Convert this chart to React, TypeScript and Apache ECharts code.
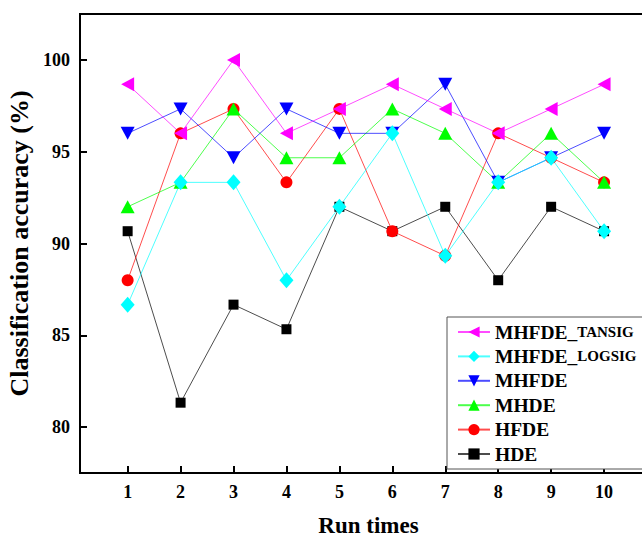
import React, { useEffect, useRef } from "react";
import * as echarts from "echarts";

const runs = [1, 2, 3, 4, 5, 6, 7, 8, 9, 10];
const yTicks = [80, 85, 90, 95, 100];

const tansig = [98.67, 96, 100, 96, 97.33, 98.67, 97.33, 96, 97.33, 98.67];
const logsig = [86.67, 93.33, 93.33, 88, 92, 96, 89.33, 93.33, 94.67, 90.67];
const mhfde = [96, 97.33, 94.67, 97.33, 96, 96, 98.67, 93.33, 94.67, 96];
const mhde = [92, 93.33, 97.33, 94.67, 94.67, 97.33, 96, 93.33, 96, 93.33];
const hfde = [88, 96, 97.33, 93.33, 97.33, 90.67, 89.33, 96, 94.67, 93.33];
const hde = [90.67, 81.33, 86.67, 85.33, 92, 90.67, 92, 88, 92, 90.67];

const FONT = "'Liberation Serif', 'Times New Roman', serif";

export default function App() {
  const ref = useRef<HTMLDivElement>(null);
  useEffect(() => {
    if (!ref.current) return;
    const chart = echarts.init(ref.current, undefined, { renderer: "svg" });
    const mk = (name: string, data: number[], color: string, symbol: string, size: any, rotate = 0) => ({
      name,
      type: "line",
      data: runs.map((r, i) => [r, data[i]]),
      symbol,
      symbolSize: size,
      symbolRotate: rotate,
      showAllSymbol: true,
      lineStyle: { color, width: 1, opacity: 0.7 },
      itemStyle: { color, borderWidth: 0 },
      emphasis: { disabled: true },
    });
    chart.setOption({
      animation: false,
      grid: {
        left: 80,
        top: 14,
        width: 577,
        bottom: 65,
        outerBoundsMode: "none",
        containLabel: false,
        show: true,
        borderColor: "#000",
        borderWidth: 2,
        backgroundColor: "transparent",
      },
      xAxis: {
        type: "value",
        min: 0.1,
        max: 11,
        name: "Run times",
        nameLocation: "middle",
        nameGap: 41,
        nameTextStyle: { fontFamily: FONT, fontWeight: "bold", fontSize: 23, color: "#000" },
        axisLine: { lineStyle: { color: "#000", width: 2 } },
        axisTick: { inside: true, length: 7, customValues: runs, lineStyle: { color: "#000", width: 2 } },
        axisLabel: {
          customValues: runs,
          margin: 10,
          fontFamily: FONT,
          fontWeight: "bold",
          fontSize: 18,
          color: "#000",
        },
        splitLine: { show: false },
      },
      yAxis: {
        type: "value",
        min: 77.5,
        max: 102.5,
        name: "Classification accuracy (%)",
        nameLocation: "middle",
        nameGap: 44,
        nameTextStyle: { fontFamily: FONT, fontWeight: "bold", fontSize: 26, color: "#000" },
        axisLine: { show: true, lineStyle: { color: "#000", width: 2 } },
        axisTick: { show: true, inside: true, length: 7, customValues: yTicks, lineStyle: { color: "#000", width: 2 } },
        axisLabel: {
          customValues: yTicks,
          margin: 10,
          fontFamily: FONT,
          fontWeight: "bold",
          fontSize: 18,
          color: "#000",
        },
        splitLine: { show: false },
      },
      legend: {
        left: 447,
        top: 317,
        orient: "vertical",
        data: ["MHFDE_TANSIG", "MHFDE_LOGSIG", "MHFDE", "MHDE", "HFDE", "HDE"],
        itemWidth: 32,
        itemHeight: 14,
        itemGap: 4.4,
        padding: [5, 40, 5, 10],
        borderColor: "#555",
        borderWidth: 1,
        backgroundColor: "#fff",
        formatter: (n: string) => {
          const m = n.match(/^(MHFDE_)(TANSIG|LOGSIG)$/);
          if (m) return `{a|${m[1]}}{b|${m[2]}}`;
          return `{a|${n}}`;
        },
        textStyle: {
          fontFamily: FONT,
          fontWeight: "bold",
          fontSize: 19.5,
          color: "#000",
          lineHeight: 20,
          padding: [0, 0, 0, 0],
          rich: {
            a: { fontFamily: FONT, fontWeight: "bold", fontSize: 19.5, color: "#000", lineHeight: 20 },
            b: { fontFamily: FONT, fontWeight: "bold", fontSize: 15, color: "#000", lineHeight: 20 },
          },
        },
      },
      series: [
        mk("HDE", hde, "#000000", "rect", 10),
        mk("HFDE", hfde, "#ff0000", "circle", 12),
        mk("MHDE", mhde, "#00ff00", "triangle", [14, 13]),
        mk("MHFDE", mhfde, "#0000ff", "triangle", [14, 13], 180),
        mk("MHFDE_LOGSIG", logsig, "#00ffff", "diamond", [14, 16]),
        mk("MHFDE_TANSIG", tansig, "#ff00ff", "triangle", [14, 13], 90),
      ],
    });
    return () => chart.dispose();
  }, []);
  return <div ref={ref} style={{ position: "fixed", left: 0, top: 0, width: 642, height: 538, background: "#fff" }} />;
}
